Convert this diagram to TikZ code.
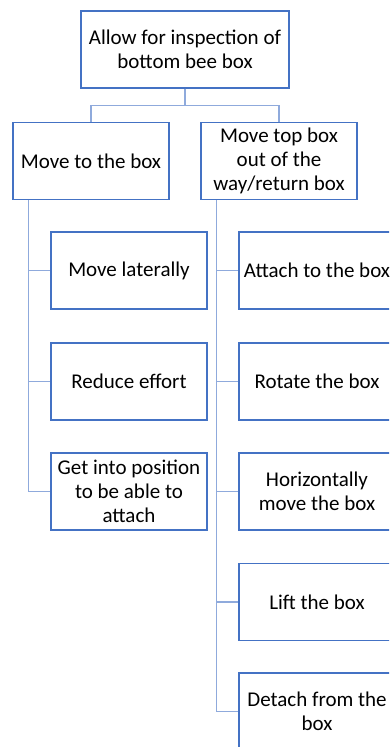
\documentclass[tikz,border=0pt]{standalone}
\usepackage{fontspec}
\setmainfont{Carlito}
\usetikzlibrary{positioning}
\definecolor{boxblue}{RGB}{68,114,196}
\definecolor{lineblue}{RGB}{143,170,220}
\begin{document}
\begin{tikzpicture}[x=1pt,y=-1pt,
    task/.style={draw=boxblue,line width=1.2pt,fill=white,align=center,
      minimum width=156pt,minimum height=77pt,inner sep=1pt,
      font=\fontsize{21}{24}\selectfont},
    conn/.style={draw=lineblue,line width=1.4pt}]
  \useasboundingbox (0,0) rectangle (389,747);
  \clip (0,0) rectangle (389,747);
  % goal and the two sub-functions
  \node[task,minimum width=208pt] (goal) at (185,49.5) {Allow for inspection of\\bottom bee box};
  \node[task] (tobox) at (91,161) {Move to the box};
  \node[task] (topbox) at (279,161) {Move top box\\out of the\\way/return box};
  %
  \node[task] (lat) at (129,270.5) {Move laterally};
  \node[task] (eff) at (129,381.5) {Reduce effort};
  \node[task] (pos) at (129,491.5) {Get into position\\to be able to\\attach};
  %
  \node[task] (att) at (317,270.5) {Attach to the box};
  \node[task] (rot) at (317,381.5) {Rotate the box};
  \node[task] (hor) at (317,491.5) {Horizontally\\move the box};
  \node[task] (lift) at (317,602) {Lift the box};
  \node[task] (det) at (317,711.5) {Detach from the\\box};
  % connectors
  \draw[conn] (goal.south) -- ++(0,17) -| (tobox.north);
  \draw[conn] (goal.south) -- ++(0,17) -| (topbox.north);
  \draw[conn] ([xshift=16pt]tobox.south west) |- (lat.west);
  \draw[conn] ([xshift=16pt]tobox.south west) |- (eff.west);
  \draw[conn] ([xshift=16pt]tobox.south west) |- (pos.west);
  \draw[conn] ([xshift=16pt]topbox.south west) |- (att.west);
  \draw[conn] ([xshift=16pt]topbox.south west) |- (rot.west);
  \draw[conn] ([xshift=16pt]topbox.south west) |- (hor.west);
  \draw[conn] ([xshift=16pt]topbox.south west) |- (lift.west);
  \draw[conn] ([xshift=16pt]topbox.south west) |- (det.west);
\end{tikzpicture}
\end{document}
